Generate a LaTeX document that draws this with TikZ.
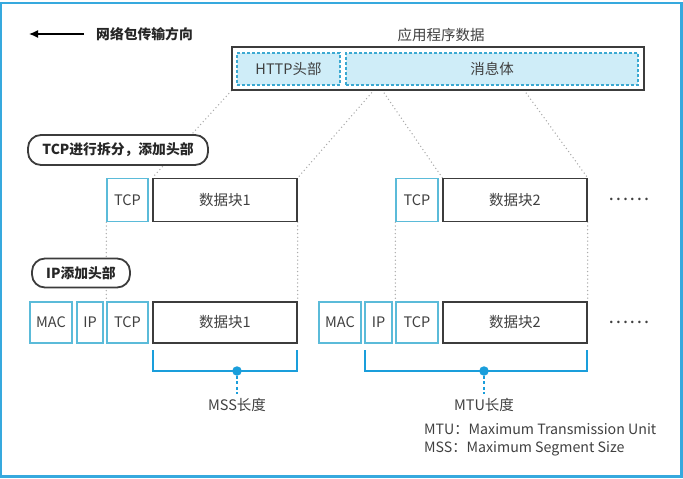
\documentclass[tikz,border=0pt]{standalone}
\usepackage{fontspec}
\setmainfont{Noto Sans CJK SC}
\usetikzlibrary{arrows.meta,backgrounds}
\definecolor{frameblue}{HTML}{36A9DE}
\definecolor{boxblue}{HTML}{5BBBD9}
\definecolor{brkblue}{HTML}{1A9EDB}
\definecolor{fillblue}{HTML}{CFEDF8}
\definecolor{dashblue}{HTML}{3BA9D2}
\definecolor{txt}{HTML}{404040}
\definecolor{dark}{HTML}{3C3C3C}
\definecolor{dotgray}{HTML}{ABABAB}
\begin{document}
\begin{tikzpicture}[x=1pt,y=-1pt,
  font=\fontsize{14.5}{17}\selectfont, text=txt,
  bluebox/.style={draw=boxblue, line width=1.4pt, inner sep=0pt, minimum height=43pt, fill=white},
  datbox/.style={draw=dark, line width=1.3pt, inner sep=0pt, minimum height=43pt, minimum width=144pt, fill=white},
  dashbox/.style={draw=dashblue, fill=fillblue, line width=1.3pt, dash pattern=on 3pt off 2pt, inner sep=0pt, minimum height=32pt},
  pill/.style={draw=dark, line width=1.8pt, rounded corners=13pt, fill=white, inner sep=0pt, font=\fontsize{13.8}{16}\selectfont\bfseries, text=black!85},
  dotline/.style={draw=dotgray, line width=1.5pt, line cap=round, dash pattern=on 0pt off 3.8pt},
  brk/.style={draw=brkblue, line width=2pt},
  brkdash/.style={draw=brkblue, line width=2pt, dash pattern=on 3pt off 2.5pt},
  lbl/.style={inner sep=0pt}
]
\useasboundingbox (0,0) rectangle (683,479);
\draw[frameblue, line width=2.2pt] (1.2,3) rectangle (681.5,476.5);

% direction arrow
\coordinate (arrS) at (84,34);
\coordinate (arrE) at (29,34);
\draw[-{Latex[length=9pt,width=8pt]}, line width=1.3pt, black] (arrS) -- (arrE);
\node[lbl, anchor=west, font=\fontsize{13.8}{16}\selectfont\bfseries, text=black!85] (dir) at (96,34) {网络包传输方向};

% application data
\node[lbl] (apptitle) at (441,35) {应用程序数据};
\node[draw=dark, line width=1.4pt, fill=white, inner sep=0pt, minimum width=412pt, minimum height=43pt] (app) at (438,68.5) {};
\node[dashbox, minimum width=103pt] (http) at (288.5,69) {HTTP头部};
\node[dashbox, minimum width=292pt] (body) at (492,69) {消息体};

% row 1
\node[bluebox, minimum width=41pt] (tcpA) at (127.5,200) {TCP};
\node[datbox] (datA) at (225,200) {数据块1};
\node[bluebox, minimum width=42pt] (tcpB) at (417,200) {TCP};
\node[datbox] (datB) at (515,200) {数据块2};
\node[lbl, font=\fontsize{19}{19}\selectfont] (ellA) at (629,199) {……};

% row 2
\node[bluebox, minimum width=42pt, minimum height=41pt] (macA) at (51,322.5) {MAC};
\node[bluebox, minimum width=26pt, minimum height=41pt] (ipA) at (90,322.5) {IP};
\node[bluebox, minimum width=41pt, minimum height=41pt] (tcpA2) at (127.5,322.5) {TCP};
\node[datbox, minimum height=41pt] (datA2) at (225,322.5) {数据块1};
\node[bluebox, minimum width=42pt, minimum height=41pt] (macB) at (340,322.5) {MAC};
\node[bluebox, minimum width=27pt, minimum height=41pt] (ipB) at (378.5,322.5) {IP};
\node[bluebox, minimum width=42pt, minimum height=41pt] (tcpB2) at (417,322.5) {TCP};
\node[datbox, minimum height=41pt] (datB2) at (515,322.5) {数据块2};
\node[lbl, font=\fontsize{19}{19}\selectfont] (ellB) at (629,322) {……};

% step labels
\node[pill, minimum width=180pt, minimum height=30pt] (stepA) at (118,150) {TCP进行拆分，添加头部};
\node[pill, minimum width=98pt, minimum height=29pt] (stepB) at (81,273) {IP添加头部};

% dotted connectors (behind)
\coordinate (s2) at (374,90);
\coordinate (s3) at (382,90);
\coordinate (s4) at (524,90);
\begin{scope}[on background layer]
\draw[dotline] (app.south west) -- (datA.north west);
\draw[dotline] (s2) -- (datA.north east);
\draw[dotline] (s3) -- (datB.north west);
\draw[dotline] (s4) -- (datB.north east);
\draw[dotline] (tcpA.south west) -- (tcpA2.north west);
\draw[dotline] (datA.south east) -- (datA2.north east);
\draw[dotline] (tcpB.south west) -- (tcpB2.north west);
\draw[dotline] (datB.south east) -- (datB2.north east);
\end{scope}

% MSS bracket
\coordinate (mA1) at (153,350);
\coordinate (mA2) at (153,371);
\coordinate (mA3) at (297,371);
\coordinate (mA4) at (297,350);
\draw[brk] (mA1) -- (mA2) -- (mA3) -- (mA4);
\node[circle, fill=brkblue, inner sep=0pt, minimum size=9.5pt] (dotA) at (237,371) {};
\node[lbl] (mss) at (237,405) {MSS长度};
\draw[brkdash] (dotA.south) -- ([yshift=4pt]mss.north);

% MTU bracket
\coordinate (mB1) at (365,350);
\coordinate (mB2) at (365,371);
\coordinate (mB3) at (587,371);
\coordinate (mB4) at (587,350);
\draw[brk] (mB1) -- (mB2) -- (mB3) -- (mB4);
\node[circle, fill=brkblue, inner sep=0pt, minimum size=9.5pt] (dotB) at (484,371) {};
\node[lbl] (mtu) at (484,405) {MTU长度};
\draw[brkdash] (dotB.south) -- ([yshift=4pt]mtu.north);

% legend
\node[lbl, anchor=north west, align=left, font=\fontsize{14.2}{18}\selectfont] (legend) at (424,423.5) {MTU：Maximum Transmission Unit\\MSS：Maximum Segment Size};
\end{tikzpicture}
\end{document}
